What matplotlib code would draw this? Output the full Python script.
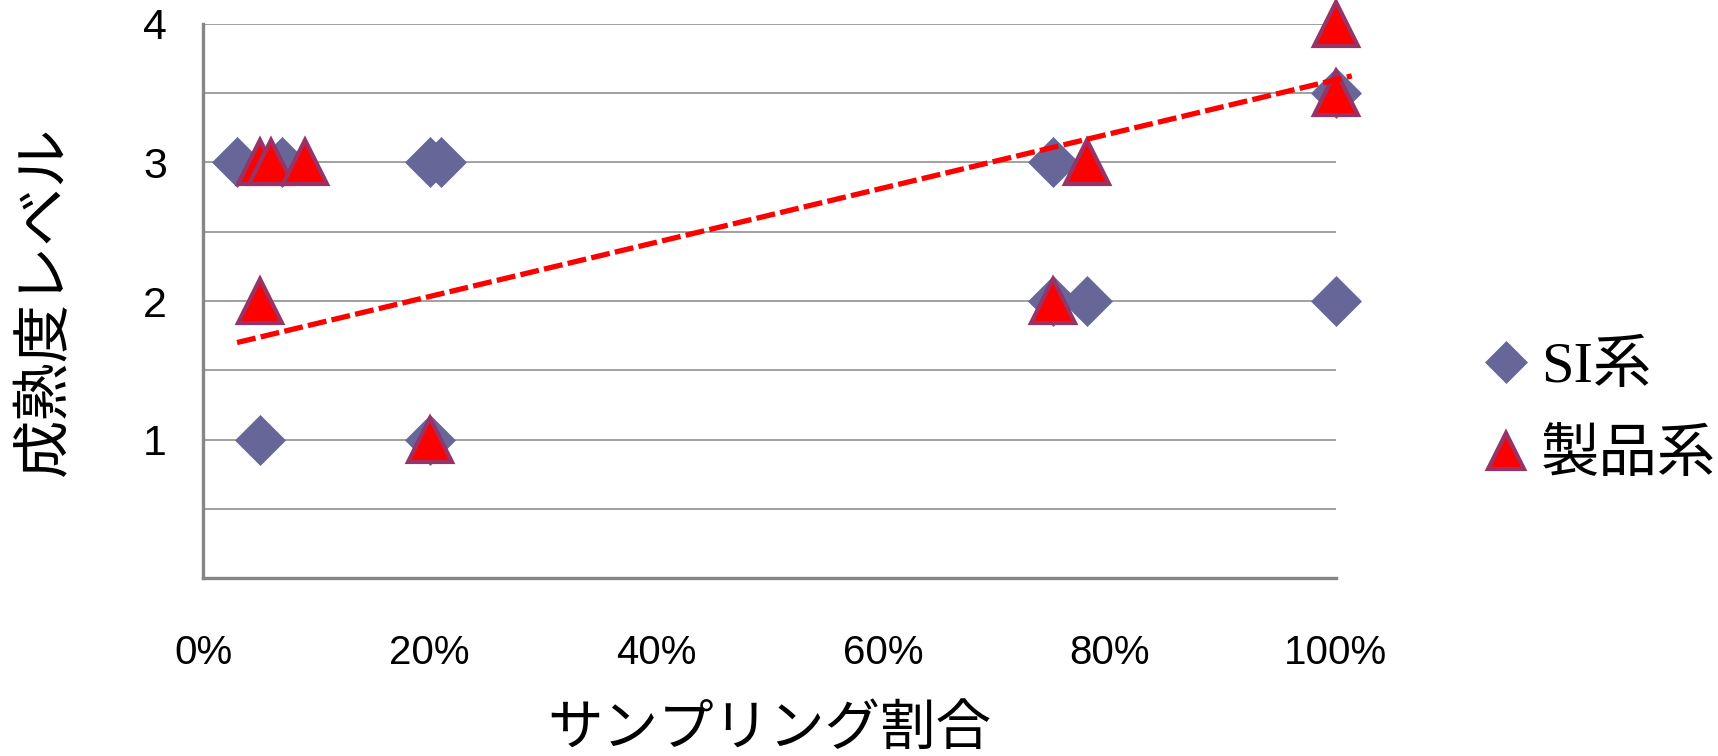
import numpy as np
import matplotlib
matplotlib.use('Agg')
import matplotlib.pyplot as plt

# サンプリング割合 vs 成熟度レベル
si_x = [0.03, 0.07, 0.20, 0.21, 0.75, 0.05, 0.20, 0.75, 0.78, 1.00, 1.00]
si_y = [3, 3, 3, 3, 3, 1, 1, 2, 2, 2, 3.5]
prod_x = [0.05, 0.06, 0.09, 0.05, 0.20, 0.75, 0.78, 1.00, 1.00]
prod_y = [3, 3, 3, 2, 1, 2, 3, 4, 3.5]

# trend line (start / end)
trend_x = [0.03, 1.014]
trend_y = [1.70, 3.625]

x_ticks = [0, 0.2, 0.4, 0.6, 0.8, 1.0]
x_labels = ['0%', '20%', '40%', '60%', '80%', '100%']
y_ticks = [1, 2, 3, 4]

jp = ['Noto Sans CJK JP', 'DejaVu Sans']
plt.rcParams['font.family'] = jp

fig = plt.figure(figsize=(17.18, 7.56), dpi=100)
ax = fig.add_axes([0.1182, 0.2354, 0.6594, 0.7329])

ax.plot(si_x, si_y, 'D', ms=25, color='#666699', mec='#666699', mew=0.5,
        label='SI系', clip_on=False, zorder=3)
ax.plot(prod_x, prod_y, '^', ms=31, color='#ff0000', mec='#993366', mew=3,
        label='製品系', clip_on=False, zorder=4)
ax.plot(trend_x, trend_y, color='#ff0000', lw=3.8, ls=(0, (3.6, 1.0)),
        dash_capstyle='butt', clip_on=False, zorder=5)

ax.set_xlim(0, 1)
ax.set_ylim(0, 4)
ax.set_xticks(x_ticks)
ax.set_xticklabels(x_labels, family=['Liberation Sans', 'DejaVu Sans'], fontsize=29)
ax.set_yticks(y_ticks)
ax.set_yticklabels([str(v) for v in y_ticks], family=['Liberation Sans', 'DejaVu Sans'],
                   fontsize=31)
ax.set_yticks([0.5, 1.5, 2.5, 3.5], minor=True)
ax.tick_params(axis='x', length=0, pad=40)
ax.tick_params(axis='y', which='both', length=0, pad=26)
ax.grid(axis='y', which='both', color='#868686', lw=1.1)
ax.set_axisbelow(True)

for side in ['top', 'right']:
    ax.spines[side].set_visible(False)
for side in ['left', 'bottom']:
    ax.spines[side].set_color('#868686')
    ax.spines[side].set_linewidth(2.4)

ax.set_xlabel('サンプリング割合', fontsize=40)
ax.xaxis.set_label_coords(0.5, -0.272)
ax.xaxis.label.set_va('center')
ax.set_ylabel('成熟度レベル', fontsize=42)
ax.yaxis.set_label_coords(-0.14, 0.5)
ax.yaxis.label.set_va('center')

leg = fig.legend(loc='center left', bbox_to_anchor=(0.834, 0.455), frameon=False,
                 prop={'family': ['Liberation Serif', 'Noto Sans CJK JP'], 'size': 42},
                 handlelength=0.7, handletextpad=0.25, labelspacing=0.6,
                 markerscale=0.85)

fig.savefig('out.png', dpi=100)
